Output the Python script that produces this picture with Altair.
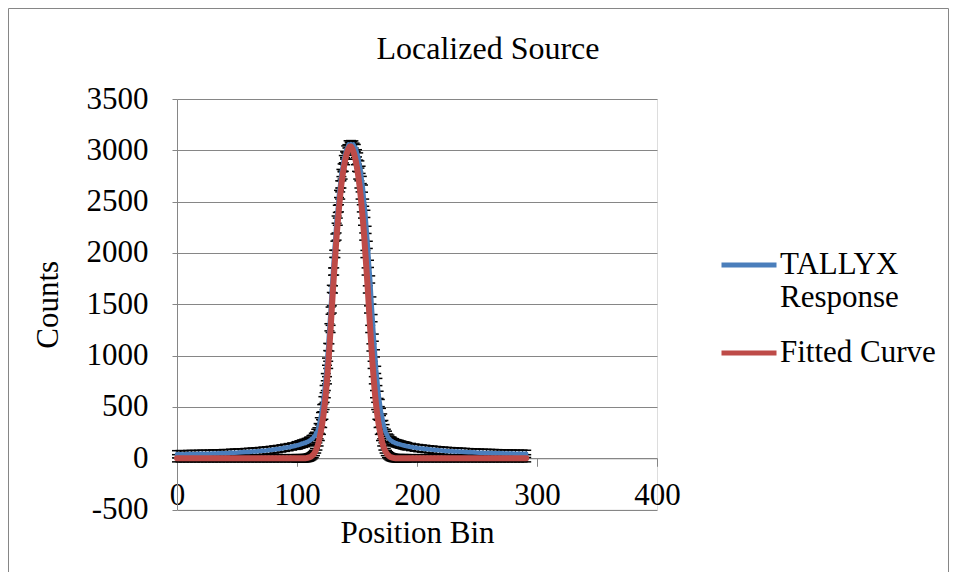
import altair as alt
import pandas as pd

title_text = "Localized Source"
x_title = "Position Bin"
y_title = "Counts"
series_names = ["TALLYX Response", "Fitted Curve"]
series_colors = ["#4A7EBB", "#BE4B48"]
x_ticks = [0, 100, 200, 300, 400]
y_ticks = [-500, 0, 500, 1000, 1500, 2000, 2500, 3000, 3500]

# position bins sampled (sparser on the flat tails)
bins = list(range(0, 100, 3)) + list(range(100, 192)) + list(range(192, 292, 3))

tallyx_counts = [
    39, 40, 38, 41, 42, 40, 43, 44, 42, 45, 47, 46, 48, 50, 49, 53, 55, 56,
    58, 60, 62, 65, 67, 70, 74, 77, 81, 86, 90, 96, 102, 108, 115, 122,
    127, 126, 135, 134, 143, 141, 150, 148, 158, 159, 170, 171, 186, 190,
    209, 219, 247, 262, 303, 360, 411, 488, 565, 674, 790, 941, 1084, 1276,
    1438, 1650, 1819, 1992, 2150, 2325, 2430, 2575, 2668, 2779, 2833, 2914,
    2950, 3008, 3020, 3058, 3046, 3060, 3049, 3057, 3035, 3022, 2971, 2940,
    2862, 2810, 2711, 2627, 2490, 2381, 2225, 2079, 1894, 1742, 1537, 1365,
    1175, 1022, 861, 743, 618, 538, 451, 397, 333, 293, 248, 229, 201, 191,
    174, 170, 158, 156, 147, 146, 140, 139, 133, 132, 127, 126, 121, 120,
    117, 110, 104, 99, 95, 91, 87, 84, 80, 77, 74, 71, 69, 67, 65, 63, 61,
    59, 58, 56, 55, 53, 52, 51, 50, 49, 48, 47, 46, 46, 45, 44, 44, 43,
]

fitted_counts = [
    0, 0, 0, 0, 0, 0, 0, 0, 0, 0, 0, 0, 0, 0, 0, 0, 0, 0,
    0, 0, 0, 0, 0, 0, 0, 0, 0, 0, 0, 0, 0, 0, 0, 0,
    0, 0, 0, 0, 0, 0, 0, 1, 2, 4, 8, 12, 19, 29,
    42, 61, 86, 115, 155, 208, 268, 335, 415, 510, 625, 760, 910, 1080,
    1260, 1450, 1645, 1820, 1990, 2160, 2305, 2435, 2560, 2668, 2755, 2830,
    2895, 2948, 2988, 3018, 3037, 3037, 3018, 2988, 2948, 2895, 2830, 2755,
    2668, 2560, 2435, 2305, 2160, 1990, 1820, 1645, 1450, 1260, 1080, 910,
    760, 625, 510, 415, 335, 268, 208, 155, 115, 86, 61, 42, 29, 19,
    12, 8, 4, 2, 1, 0, 0, 0, 0, 0, 0, 0, 0, 0,
    0, 0, 0, 0, 0, 0, 0, 0, 0, 0, 0, 0, 0, 0, 0, 0, 0,
    0, 0, 0, 0, 0, 0, 0, 0, 0, 0, 0, 0, 0, 0, 0, 0, 0,
]

ERR = 35  # fixed error-bar half height (counts)

n = len(bins)
df = pd.DataFrame({
    "bin": bins + bins,
    "counts": tallyx_counts + fitted_counts,
    "series": [series_names[0]] * n + [series_names[1]] * n,
})
df["lo"] = df["counts"] - ERR
df["hi"] = df["counts"] + ERR

FONT = "Liberation Serif"
GRAY = "#868686"

PLOT_W = 480
PLOT_H = 410.6
PAD_L, PAD_T = 169, 91
CANVAS_W, CANVAS_H = 941, 564

xs = alt.Scale(domain=[0, 400], nice=False, zero=False)
ys = alt.Scale(domain=[-500, 3500], nice=False, zero=False)

x_enc = alt.X(
    "bin:Q", scale=xs,
    axis=alt.Axis(
        values=x_ticks, grid=False, offset=-PLOT_H / 8,
        domainColor=GRAY, tickColor=GRAY, tickSize=8, tickWidth=1,
        labelFont=FONT, labelFontSize=31, labelColor="black",
        labelPadding=14, labelFlush=False, labelOverlap=False,
        labelExpr="'' + datum.value",
        title=x_title, titleFont=FONT, titleFontSize=31, titleFontWeight="normal",
        titleColor="black", titleX=PLOT_W / 2, titleY=84.7, titleBaseline="alphabetic",
        titleAlign="center",
    ),
)
y_enc = alt.Y(
    "counts:Q", scale=ys,
    axis=alt.Axis(
        values=y_ticks, grid=True, gridColor=GRAY, gridWidth=1,
        domainColor=GRAY, tickColor=GRAY, tickSize=5, tickWidth=1,
        labelFont=FONT, labelFontSize=31, labelColor="black", labelPadding=24,
        labelOverlap=False, labelFlush=False,
        labelExpr="'' + datum.value",
        title=y_title, titleFont=FONT, titleFontSize=31, titleFontWeight="normal",
        titleColor="black", titleAngle=-90, titleX=-129, titleY=PLOT_H / 2,
        titleBaseline="middle", titleAlign="center",
    ),
)

base = alt.Chart(df)

err_rule = base.mark_rule(color="black", strokeWidth=1).encode(
    x=alt.X("bin:Q", scale=xs), y=alt.Y("lo:Q", scale=ys), y2="hi:Q"
)
cap_lo = base.mark_point(shape="stroke", size=100, color="black", strokeWidth=1.5, opacity=1).encode(
    x=alt.X("bin:Q", scale=xs), y=alt.Y("lo:Q", scale=ys)
)
cap_hi = base.mark_point(shape="stroke", size=100, color="black", strokeWidth=1.5, opacity=1).encode(
    x=alt.X("bin:Q", scale=xs), y=alt.Y("hi:Q", scale=ys)
)

color_enc = alt.Color(
    "series:N",
    scale=alt.Scale(domain=series_names, range=series_colors),
    legend=alt.Legend(
        title=None, orient="none", legendX=542, legendY=136,
        symbolType="stroke", symbolSize=3025, symbolStrokeWidth=5,
        labelFont=FONT, labelFontSize=31, labelColor="black", labelLimit=400,
        labelOffset=1, rowPadding=10, padding=0,
        labelExpr="datum.label == 'TALLYX Response' ? ['TALLYX', 'Response'] : datum.label",
    ),
)

blue_line = base.transform_filter(alt.datum.series == series_names[0]).mark_line(
    strokeWidth=4.5, strokeCap="round", strokeJoin="round"
).encode(x=x_enc, y=y_enc, color=color_enc, order="bin:Q")

red_line = base.transform_filter(alt.datum.series == series_names[1]).mark_line(
    strokeWidth=6, strokeCap="round", strokeJoin="round"
).encode(x=alt.X("bin:Q", scale=xs), y=alt.Y("counts:Q", scale=ys), color=color_enc, order="bin:Q")

frame = alt.Chart(pd.DataFrame({"k": [0]})).mark_rect(
    fill=None, stroke=GRAY, strokeWidth=1
).encode(
    x=alt.value(0.5 - PAD_L), x2=alt.value(CANVAS_W - 0.5 - PAD_L),
    y=alt.value(0.5 - PAD_T), y2=alt.value(CANVAS_H + 20 - PAD_T),
)

chart = alt.layer(frame, err_rule, cap_lo, cap_hi, blue_line, red_line).properties(
    width=PLOT_W, height=PLOT_H,
    title=alt.TitleParams(
        title_text, font=FONT, fontSize=32, fontWeight="normal", color="black",
        anchor="middle", dx=71, offset=-83, baseline="alphabetic",
    ),
    autosize=alt.AutoSizeParams(type="none"),
    padding={"left": PAD_L, "top": PAD_T, "right": CANVAS_W - PAD_L - PLOT_W,
             "bottom": CANVAS_H - PAD_T - PLOT_H},
).configure_view(stroke=None).configure(background="white")

chart.save("out.html", embed_options={"renderer": "svg", "actions": False})
